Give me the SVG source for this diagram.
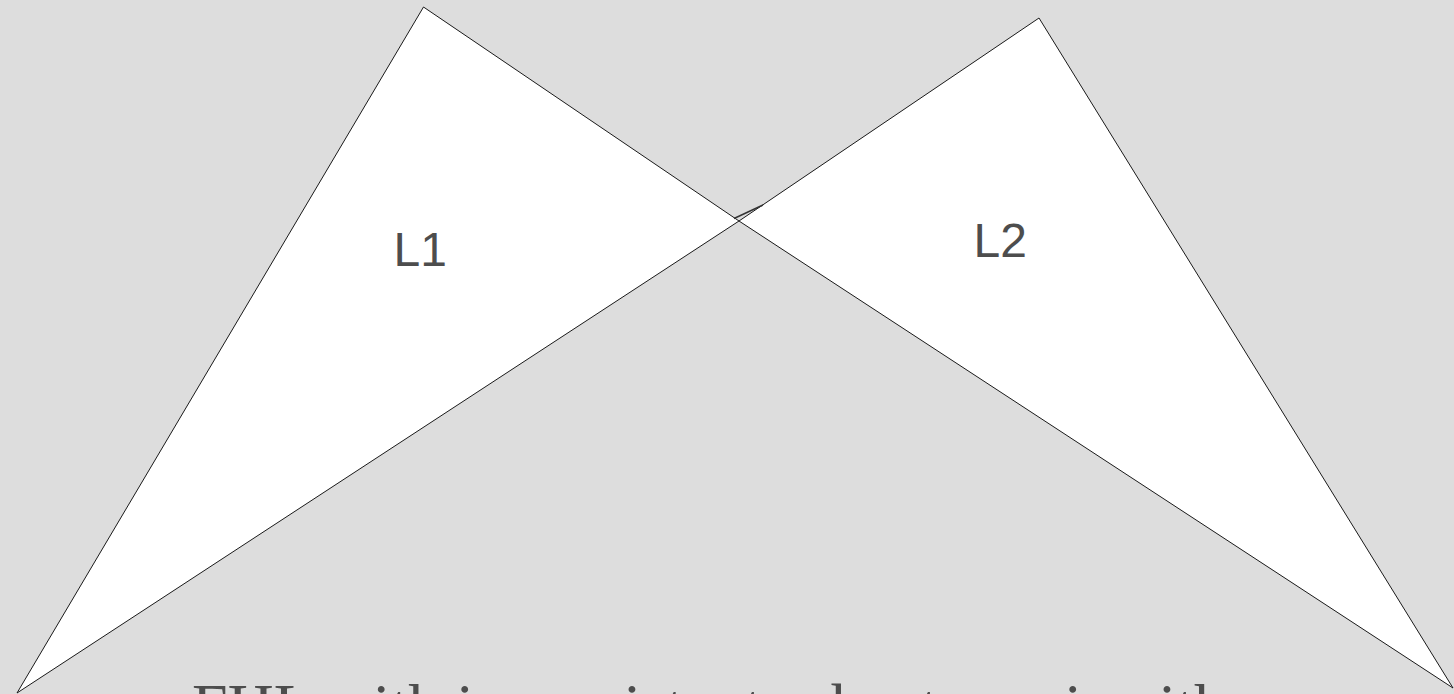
<svg xmlns="http://www.w3.org/2000/svg" width="1454" height="694" viewBox="0 0 1454 694">
<style>
.tri{fill:#ffffff;stroke:#1a1a1a;stroke-width:1;stroke-linejoin:miter}
.lbl{font-family:"Liberation Sans",Arial,sans-serif;font-size:48px;fill:#4d4d4d}
.cap{font-family:"Liberation Serif","Times New Roman",serif;font-size:64px;fill:#4d4d4d}
</style>
<rect x="0" y="0" width="1454" height="694" fill="#dddddd"/>
<g id="L1">
<polygon class="tri" points="423.5,7 17,693 739,221"/>
<text class="lbl" x="393.5" y="266">L1</text>
</g>
<g id="L2">
<polygon class="tri" points="1039,18 739,221 1453,688"/>
<text class="lbl" x="973.5" y="257">L2</text>
</g>
<g id="connectors">
<line x1="734" y1="218.5" x2="763" y2="205" stroke="#333333" stroke-width="1.4"/>
</g>
<text class="cap" x="192" y="728">FHL with inconsistent robustness in either</text>
</svg>
